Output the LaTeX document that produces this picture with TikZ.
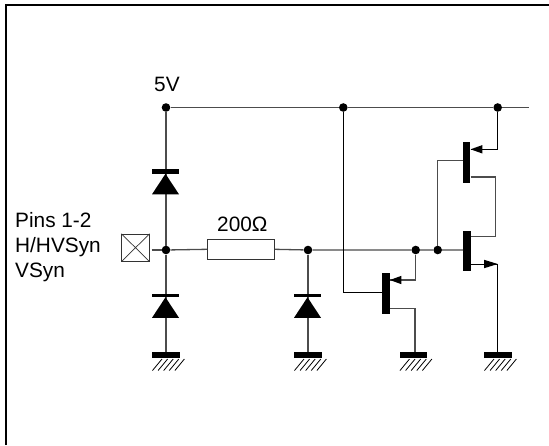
\documentclass[tikz,border=0pt]{standalone}
\usepackage{fontspec}
\setmainfont{Liberation Sans}
\definecolor{wiregray}{gray}{0.3}
\tikzset{
  wire/.style={draw=wiregray,line width=1.3pt},
  thin wire/.style={draw=black,line width=1pt},
  dot/.style={circle,fill=black,inner sep=0pt,minimum size=8.6pt},
  label text/.style={anchor=base west,inner sep=0pt,font=\fontsize{20.8}{24}\selectfont,text=black},
  gbar/.style={rectangle,fill=black,inner sep=0pt,minimum width=27.5pt,minimum height=5.5pt},
  tbar/.style={rectangle,fill=black,inner sep=0pt,minimum width=7.4pt,minimum height=40.5pt},
  hatch/.style={draw=black,line width=0.8pt},
  box/.style={rectangle,draw=black!80,line width=1pt,inner sep=0pt,fill=white},
}
\newcommand{\gndsym}[2]{%
  \node[gbar] (#1) at (#2,355) {};
  \foreach \k in {0,...,4} {
    \draw[hatch] ({#2-13.5+\k*5.6},370.5) -- ({#2-13.5+\k*5.6+9.5},359);
  }
}
\newcommand{\diodeat}[4]{%
  \node[rectangle,fill=black,inner sep=0pt,minimum width=27.6pt,minimum height=#4pt] (#1) at (#2,#3) {};
  \fill[black] (#1.south) -- ++(13.5,20.5) -- ++(-27,0) -- cycle;
}
\begin{document}
\begin{tikzpicture}[x=1pt,y=-1pt]
\useasboundingbox (0,0) rectangle (549,445);
% frame
\draw[black,line width=2.2pt] (6,445) -- (6,5) -- (549,5);
% junctions
\node[dot] (j5v) at (166,107.5) {};
\node[dot] (jbus) at (343.3,107.5) {};
\node[dot] (jbusr) at (497.7,107.5) {};
\coordinate (busend) at (529,107.5);
\node[dot] (jin) at (166,250) {};
\node[dot] (jd) at (308,250) {};
\node[dot] (jt) at (415.7,250) {};
\node[dot] (jg) at (437.7,250) {};
% pin and resistor
\node[box,minimum width=27.2pt,minimum height=26.8pt] (pin) at (135.5,247.7) {};
\draw[draw=black!80,line width=0.7pt] (pin.north west) -- (pin.south east) (pin.north east) -- (pin.south west);
\coordinate (pinw) at (151.7,250);
\node[box,minimum width=66.6pt,minimum height=20pt] (res) at (241,249.3) {};
% grounds
\gndsym{g1}{166}
\gndsym{g2}{308}
\gndsym{g3}{413.5}
\gndsym{g4}{498}
% transistors
\node[tbar] (t1) at (386,293.4) {};
\node[tbar] (t2) at (466.7,162.5) {};
\node[tbar] (t3) at (467,251) {};
% wires
\draw[wire] (j5v) -- (jbus) -- (jbusr) -- (busend);
\draw[wire] (pinw) -- (jin);
\draw[wire] (jin) -- (res.west);
\draw[wire] (res.east) -- (jd) -- (jt) -- (jg) -- (jg -| t3.west);
\draw[wire] (j5v) -- (jin) -- (g1);
\draw[wire] (jd) -- (g2);
% transistor wiring
\coordinate (t1gate) at (343.3,292.3);
\draw[thin wire] (jbus) -- (t1gate) -- (t1gate -| t1.west);
\coordinate (t1e) at (415.7,280);
\draw[wire] (jt) -- (t1e) -- (t1e -| t1.east);
\coordinate (t1c) at (415,308.3);
\draw[wire] (t1c -| t1.east) -- (t1c) -- (t1c |- g3.north);
\coordinate (t2gate) at (437.7,160.7);
\draw[wire] (jg) -- (t2gate) -- (t2gate -| t2.west);
\coordinate (t2e) at (497.7,149.3);
\draw[thin wire] (jbusr) -- (t2e) -- (t2e -| t2.east);
\coordinate (t2c) at (495.7,177);
\coordinate (t3d) at (495.7,236.3);
\draw[wire] (t2c -| t2.east) -- (t2c) -- (t3d) -- (t3d -| t3.east);
\coordinate (t3s) at (497.7,264);
\draw[thin wire] (t3s -| t3.east) -- (t3s) -- (t3s |- g4.north);
% emitter arrows
\fill[black] (t1e -| t1.east) -- ++(11.5,-4.2) -- ++(0,8.4) -- cycle;
\fill[black] (t2e -| t2.east) -- ++(11.7,-4.2) -- ++(0,8.4) -- cycle;
\fill[black] (t3s) -- ++(-13.5,-4.2) -- ++(0,8.4) -- cycle;
% diodes
\diodeat{d1}{165.5}{171.3}{4.6}
\diodeat{d2}{165.5}{295.3}{3.6}
\diodeat{d3}{307.5}{295.3}{3.6}
% labels
\node[label text] (l5v) at (154,91.7) {5V};
\node[label text] (lr) at (217,231.7) {200Ω};
\node[label text] (lp1) at (15,227.7) {Pins 1-2};
\node[label text] (lp2) at (15,252.5) {H/HVSyn};
\node[label text] (lp3) at (15,277.5) {VSyn};
\end{tikzpicture}
\end{document}
